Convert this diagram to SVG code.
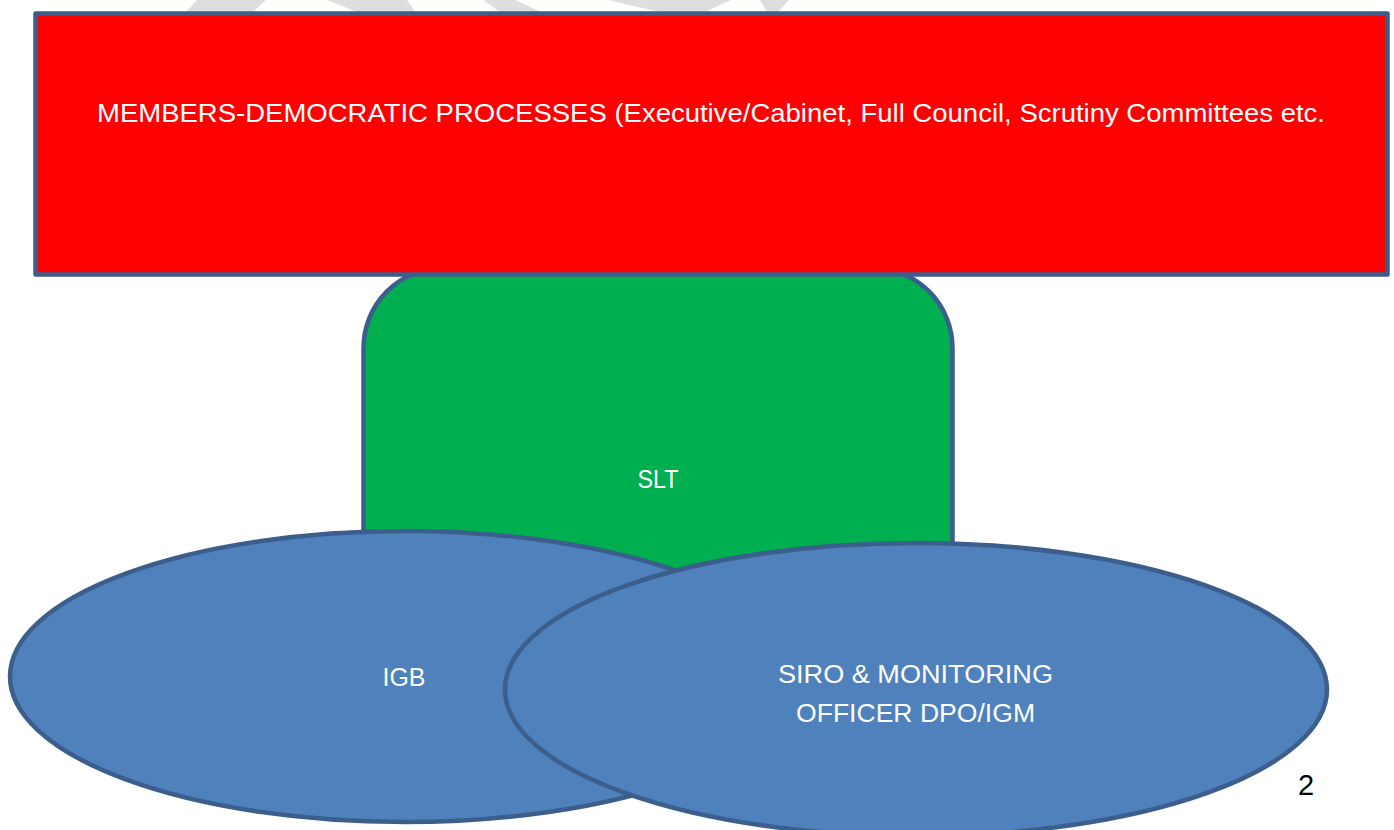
<svg xmlns="http://www.w3.org/2000/svg" width="1394" height="830" viewBox="0 0 1394 830">
  <style>
    .wm { fill: #dedede; }
    .shape { stroke: #3b5e8c; stroke-width: 4.5; stroke-linejoin: round; }
    .oval { fill: #4f81bd; }
    .label { font-family: "Liberation Sans", Arial, sans-serif; font-size: 25px; fill: #ffffff; text-anchor: middle; }
  </style>

  <!-- faint watermark letters peeking out above the top banner -->
  <g id="watermark">
    <polygon class="wm" points="186,12 197,0 266,0 253,12"/>
    <polygon class="wm" points="327,0 407,0 415,12 357,12"/>
    <polygon class="wm" points="483,0 515,0 541,12 500,12"/>
    <polygon class="wm" points="608,0 731,0 705,12 660,12"/>
    <polygon class="wm" points="760,0 789,0 778,12 767,12"/>
  </g>

  <!-- senior leadership team block (sits behind the banner and ovals) -->
  <g id="slt">
    <rect class="shape" x="363.5" y="268" width="589" height="440" rx="80" ry="80" fill="#00b050"/>
    <text class="label" x="658" y="488" textLength="41" lengthAdjust="spacingAndGlyphs">SLT</text>
  </g>

  <!-- top banner -->
  <g id="members">
    <rect class="shape" x="35.5" y="13.5" width="1352" height="261" fill="#ff0000"/>
    <text class="label" x="711" y="122" textLength="1228" lengthAdjust="spacingAndGlyphs">MEMBERS-DEMOCRATIC PROCESSES (Executive/Cabinet, Full Council, Scrutiny Committees etc.</text>
  </g>

  <g id="igb">
    <ellipse class="shape oval" cx="405" cy="676.5" rx="395" ry="145.5"/>
    <text class="label" x="404" y="686" textLength="43" lengthAdjust="spacingAndGlyphs">IGB</text>
  </g>

  <g id="siro">
    <ellipse class="shape oval" cx="916" cy="689.5" rx="411" ry="146.5"/>
    <text class="label" x="915.5" y="683" textLength="275" lengthAdjust="spacingAndGlyphs">SIRO &amp; MONITORING</text>
    <text class="label" x="915.5" y="722" textLength="239" lengthAdjust="spacingAndGlyphs">OFFICER DPO/IGM</text>
  </g>

  <!-- page number -->
  <text id="page-number" x="1306" y="795" font-family="Liberation Sans, Arial, sans-serif" font-size="29" fill="#000000" text-anchor="middle">2</text>
</svg>
